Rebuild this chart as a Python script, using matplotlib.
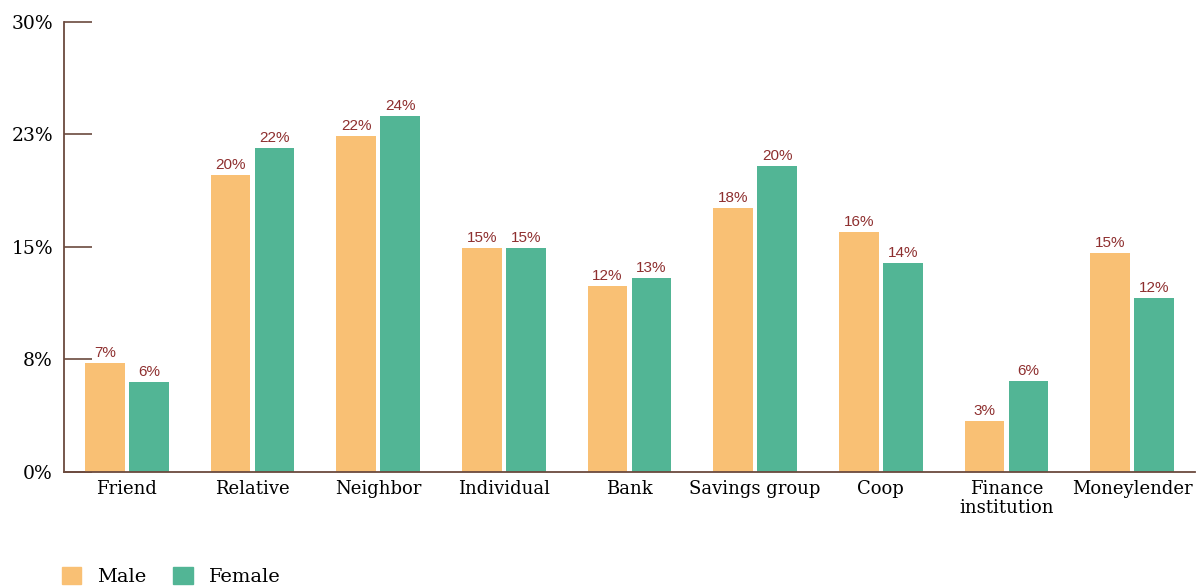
import matplotlib
matplotlib.use("Agg")
import matplotlib.pyplot as plt
import numpy as np
from matplotlib.patches import Patch

categories = ["Friend", "Relative", "Neighbor", "Individual", "Bank",
              "Savings group", "Coop", "Finance\ninstitution", "Moneylender"]
male = [7.25, 19.8, 22.4, 14.9, 12.4, 17.6, 16.0, 3.4, 14.6]
female = [6.0, 21.6, 23.7, 14.9, 12.9, 20.4, 13.9, 6.05, 11.6]
series_names = ["Male", "Female"]
y_ticks = [0, 7.5, 15, 22.5, 30]

male_color = "#F9C074"
female_color = "#52B595"
axis_color = "#6B4A3E"
label_color = "#8E2F2F"
serif = ["DejaVu Serif"]

fig = plt.figure(figsize=(12.02, 5.87), dpi=100)
ax = fig.add_axes([64 / 1202, 1 - 471.7 / 587, (1195 - 64) / 1202, 450 / 587])

x = np.arange(len(categories))
offset = 0.175
width = 0.318
b1 = ax.bar(x - offset, male, width, color=male_color, label=series_names[0], zorder=2)
b2 = ax.bar(x + offset, female, width, color=female_color, label=series_names[1], zorder=2)

for bars in (b1, b2):
    for rect in bars:
        v = rect.get_height()
        ax.annotate(f"{v:.0f}%", (rect.get_x() + rect.get_width() / 2, v),
                    xytext=(0, 2), textcoords="offset points",
                    ha="center", va="bottom", fontsize=11,
                    family=["Liberation Sans"], color=label_color)

ax.set_xlim(-0.5, len(categories) - 0.5)
ax.set_ylim(0, 30)
ax.set_yticks(y_ticks)
ax.set_yticklabels([f"{t:.0f}%" if t % 1 == 0 else f"{round(t + 0.01):.0f}%" for t in y_ticks],
                   family=serif, fontsize=13.5)
ax.set_xticks(x)
ax.set_xticklabels(categories, family=serif, fontsize=13, linespacing=1.05)

ax.tick_params(axis="y", direction="in", length=20, width=1.2, color=axis_color, pad=8)
ax.tick_params(axis="x", length=0, pad=6)
for s in ("top", "right"):
    ax.spines[s].set_visible(False)
for s in ("left", "bottom"):
    ax.spines[s].set_color(axis_color)
    ax.spines[s].set_linewidth(1.3)
ax.spines["bottom"].set_zorder(3)

handles = [Patch(color=male_color), Patch(color=female_color)]
fig.legend(handles, series_names, loc="upper left",
           bbox_to_anchor=(62 / 1202, 1 - 567 / 587), frameon=False,
           prop={"family": serif, "size": 14}, handlelength=1.0, handleheight=1.0,
           handletextpad=0.8, columnspacing=1.4, ncol=2, borderpad=0, borderaxespad=0)

fig.savefig("out.png", dpi=100)
